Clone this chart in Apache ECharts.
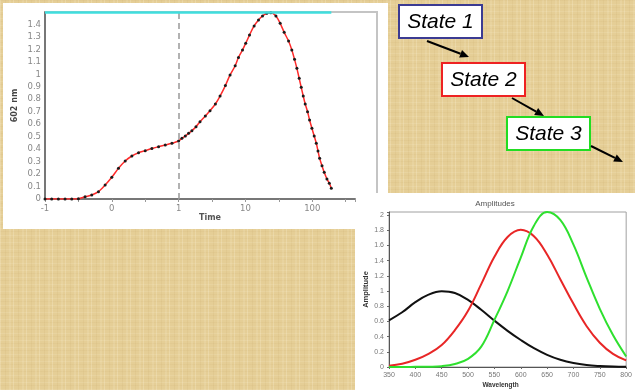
<!DOCTYPE html>
<html><head><meta charset="utf-8">
<script src="https://cdn.jsdelivr.net/npm/echarts@6/dist/echarts.min.js"></script>
<style>
html,body{margin:0;padding:0;}
#c{width:635px;height:390px;background-color:#e5ce96;
background-image:
 repeating-linear-gradient(90deg, rgba(255,248,225,0.22) 0 1px, rgba(0,0,0,0) 1px 5px, rgba(170,130,60,0.07) 5px 6px, rgba(0,0,0,0) 6px 9px, rgba(255,248,225,0.12) 9px 11px, rgba(0,0,0,0) 11px 13px),
 repeating-linear-gradient(0deg, rgba(255,248,225,0.12) 0 1px, rgba(0,0,0,0) 1px 4px, rgba(170,130,60,0.06) 4px 5px, rgba(0,0,0,0) 5px 7px);}
</style></head><body><div id="c"></div>
<script>
// ---- data ----
const timeTickLabels = ['-1', '0', '1', '10', '100'];
const kineticTime = [-1,-0.9,-0.8,-0.7,-0.6,-0.5,-0.4,-0.3,-0.2,-0.1,0,0.1,0.2,0.3,0.4,0.5,0.6,0.7,0.8,0.9,1,
  1.12,1.26,1.41,1.58,1.82,2.09,2.51,2.95,3.55,4.17,5.01,5.89,7.02,7.87,9.04,10.1,11.5,13.5,15.7,18.0,
  20.9,24.0,28.6,33.1,38.0,44.2,49.5,54.3,58.9,63.8,68.4,73.3,78.5,85.1,91.2,98.9,107,115,122,129,
  140,151,166,180,193];
const kinetic602 = [0,0,0,0,0,0.002,0.018,0.032,0.059,0.112,0.174,0.246,0.305,0.345,0.371,0.388,0.405,0.42,0.433,0.447,0.465,
  0.487,0.505,0.527,0.548,0.58,0.62,0.666,0.708,0.762,0.826,0.91,0.995,1.069,1.136,1.195,1.249,1.315,1.388,1.436,1.468,
  1.49,1.494,1.468,1.409,1.337,1.267,1.195,1.12,1.048,0.968,0.896,0.826,0.762,0.70,0.634,0.567,0.505,0.447,0.385,0.326,
  0.267,0.214,0.16,0.126,0.086];
const wavelengths = [350,375,400,425,450,475,500,525,550,575,600,625,650,675,700,725,750,775,800];
const ampState1 = [0.615,0.72,0.853,0.952,0.996,0.974,0.883,0.753,0.61,0.476,0.355,0.247,0.16,0.095,0.052,0.026,0.013,0.006,0.003];
const ampState2 = [0.017,0.043,0.095,0.173,0.29,0.485,0.74,1.09,1.45,1.71,1.805,1.72,1.48,1.156,0.831,0.537,0.32,0.173,0.087];
const ampState3 = [0,0,0.002,0.004,0.011,0.04,0.108,0.268,0.62,1.0,1.44,1.86,2.04,1.935,1.61,1.177,0.766,0.42,0.139];
const stateLabels = ['State 1', 'State 2', 'State 3'];
const stateColors = ['#3b3b92', '#ee2222', '#22dd22'];

// lin-log time axis: linear up to 1, logarithmic beyond
function timePos(t) { return t <= 1 ? t : 1 + Math.log10(t); }

const chart = echarts.init(document.getElementById('c'), null, {renderer: 'canvas'});

const boxes = [[399,5],[442,63],[507,117]];
const arrows = [[[427,41],[469,57]],[[512,98],[544,116]],[[591,146],[623,162]]];
const graphics = [
  {type:'rect', z:-10, shape:{x:3,y:3,width:385,height:226}, style:{fill:'#ffffff'}},
  {type:'rect', z:-10, shape:{x:355,y:193,width:280,height:197}, style:{fill:'#ffffff'}},
  {type:'polyline', z:1, shape:{points:[[45,12],[377,12],[377,193]]}, style:{stroke:'#c4c4c4', lineWidth:2, fill:null}},
  {type:'text', z:5, x:495, y:204, style:{text:'Amplitudes', fill:'#555', font:'8px "Liberation Sans"', textAlign:'center', textVerticalAlign:'middle'}}
];
stateLabels.forEach((s, i) => {
  const [bx, by] = boxes[i];
  graphics.push({type:'rect', z:5, shape:{x:bx,y:by,width:83,height:33}, style:{fill:'#fff', stroke:stateColors[i], lineWidth:2}});
  graphics.push({type:'text', z:6, x:bx+41.5, y:by+17, style:{text:s, fill:'#000', font:'italic 21px "Liberation Sans"', textAlign:'center', textVerticalAlign:'middle'}});
});
arrows.forEach(([a, b]) => {
  const dx = b[0]-a[0], dy = b[1]-a[1], L = Math.hypot(dx, dy), ux = dx/L, uy = dy/L;
  const hl = 9, hw = 4;
  const bx = b[0]-ux*hl, by = b[1]-uy*hl;
  graphics.push({type:'line', z:5, shape:{x1:a[0],y1:a[1],x2:bx,y2:by}, style:{stroke:'#000', lineWidth:2}});
  graphics.push({type:'polygon', z:5, shape:{points:[[b[0],b[1]],[bx-uy*hw,by+ux*hw],[bx+uy*hw,by-ux*hw]]}, style:{fill:'#000'}});
});

const kinData = kineticTime.map((t, i) => [timePos(t), kinetic602[i]]);
const lastPos = timePos(kineticTime[kineticTime.length-1]);

chart.setOption({
  animation: false,
  backgroundColor: 'transparent',
  graphic: graphics,
  grid: [
    {left:45, top:12, width:310, height:187, containLabel:false},
    {left:389, top:212, width:240, height:157, containLabel:false, show:true, borderColor:'#a0a0a0', borderWidth:1}
  ],
  xAxis: [
    {gridIndex:0, type:'value', min:-1, max:3.64, interval:1,
     name:'Time', nameLocation:'middle', nameGap:14,
     nameTextStyle:{color:'#555', fontFamily:'DejaVu Sans', fontWeight:'bold', fontSize:8, padding:[0,0,0,20]},
     axisLine:{onZero:false, lineStyle:{color:'#777', width:2}},
     axisTick:{show:true, length:3, lineStyle:{color:'#999'}},
     minorTick:{show:true, splitNumber:2, length:3, lineStyle:{color:'#999'}},
     splitLine:{show:false},
     axisLabel:{color:'#888', fontFamily:'DejaVu Sans', fontSize:8.5, margin:5,
       formatter: v => Math.abs(v-Math.round(v))<1e-6 ? (timeTickLabels[Math.round(v)+1] || '') : ''}},
    {gridIndex:1, type:'value', min:350, max:800, interval:50,
     name:'Wavelength', nameLocation:'middle', nameGap:15,
     nameTextStyle:{color:'#333', fontFamily:'Liberation Sans', fontWeight:'bold', fontSize:6.5, padding:[0,14,0,0]},
     axisLine:{onZero:false, lineStyle:{color:'#555', width:1}},
     axisTick:{show:true, length:2, lineStyle:{color:'#666'}},
     splitLine:{show:false},
     axisLabel:{color:'#777', fontFamily:'Liberation Sans', fontSize:7, margin:5}}
  ],
  yAxis: [
    {gridIndex:0, type:'value', min:0, max:1.5, interval:0.1,
     name:'602 nm', nameLocation:'middle', nameGap:26,
     nameTextStyle:{color:'#444', fontFamily:'DejaVu Sans', fontWeight:'bold', fontSize:8},
     axisLine:{show:true, onZero:false, lineStyle:{color:'#777', width:2}},
     axisTick:{show:false},
     splitLine:{show:false},
     axisLabel:{color:'#888', fontFamily:'DejaVu Sans', fontSize:8.5, margin:4,
       formatter: v => v > 1.45 ? '' : String(Math.round(v*10)/10)}},
    {gridIndex:1, type:'value', min:0, max:2.04, interval:0.2,
     name:'Amplitude', nameLocation:'middle', nameGap:18,
     nameTextStyle:{color:'#333', fontFamily:'Liberation Sans', fontWeight:'bold', fontSize:7.5},
     axisLine:{show:true, onZero:false, lineStyle:{color:'#555', width:1}},
     axisTick:{show:true, length:2, lineStyle:{color:'#666'}},
     splitLine:{show:false},
     axisLabel:{color:'#777', fontFamily:'Liberation Sans', fontSize:7, margin:5,
       formatter: v => { const r = Math.round(v*5)/5; return Math.abs(v-r)<1e-6 ? String(Math.round(r*10)/10) : ''; }}}
  ],
  series: [
    {type:'line', xAxisIndex:0, yAxisIndex:0, data:kinData, smooth:0.3,
     symbol:'circle', symbolSize:3, showAllSymbol:true,
     lineStyle:{color:'#ff2a2a', width:1.5}, itemStyle:{color:'#1a1a1a'},
     markLine:{silent:true, symbol:'none', label:{show:false}, animation:false,
       data:[
         {xAxis:1, lineStyle:{color:'#999', type:[6,4], width:1.5}},
         [{coord:[-1,1.5], lineStyle:{color:'#3fdede', type:'solid', width:2.5}}, {coord:[lastPos,1.5]}]
       ]}},
    {type:'line', xAxisIndex:1, yAxisIndex:1, data:wavelengths.map((w,i)=>[w, ampState1[i]]), smooth:0.4, symbol:'none', lineStyle:{color:'#111', width:2}},
    {type:'line', xAxisIndex:1, yAxisIndex:1, data:wavelengths.map((w,i)=>[w, ampState2[i]]), smooth:0.4, symbol:'none', lineStyle:{color:'#e82626', width:2}},
    {type:'line', xAxisIndex:1, yAxisIndex:1, data:wavelengths.map((w,i)=>[w, ampState3[i]]), smooth:0.4, symbol:'none', lineStyle:{color:'#2ee02e', width:2}}
  ]
});
</script></body></html>
